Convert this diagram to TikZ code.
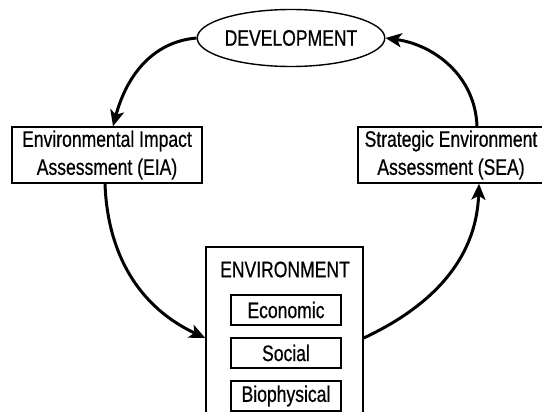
\documentclass[tikz,border=0pt]{standalone}
\usepackage{fontspec}
\setmainfont[FakeStretch=0.78,FakeBold=0.6]{Liberation Sans}
\usepackage{tikz}
\usetikzlibrary{shapes.geometric,arrows.meta}

\begin{document}
\begin{tikzpicture}[x=1pt,y=1pt,
  every node/.style = {font=\fontsize{22.5}{28}\selectfont},
  box/.style = {draw, line width=1.4pt, inner sep=0pt, align=center},
  part/.style = {box, minimum width=110pt, minimum height=30pt},
  link/.style = {line width=3pt, -{Stealth[length=16pt,width=14pt,inset=4pt]}},
  node distance={43pt}]
\clip (0,0) rectangle (542,-412);
\node[box,ellipse,minimum width=169pt,minimum height=57pt] (dev) at (291,-38) {DEVELOPMENT};
\node[box,minimum width=190pt,minimum height=56pt] (eia) at (107,-155) {Environmental Impact\\Assessment (EIA)};
\node[box,minimum width=186pt,minimum height=56pt] (sea) at (451,-155) {Strategic Environment\\Assessment (SEA)};
% tall box, its bottom runs off the page
\node[box,minimum width=157pt,minimum height=182pt] (env) at (284.5,-338) {};
\node (title) at (285,-269.5) {ENVIRONMENT};
\node[part] (eco) at (286,-310) {Economic};
\node[part] (soc) [below of=eco] {Social};
\node[part] (bio) [below of=soc] {Biophysical};
% the cycle
\draw[link] (dev.west) to[out=185,in=75] ([xshift=6pt]eia.north);
\draw[link] ([xshift=-2pt]eia.south) to[out=-88,in=155] (env.west);
\draw[link] (env.east) to[out=25,in=-92] ([xshift=28pt]sea.south);
\draw[link] ([xshift=26pt]sea.north) to[out=92,in=-8] (dev.east);
\end{tikzpicture}
\end{document}
